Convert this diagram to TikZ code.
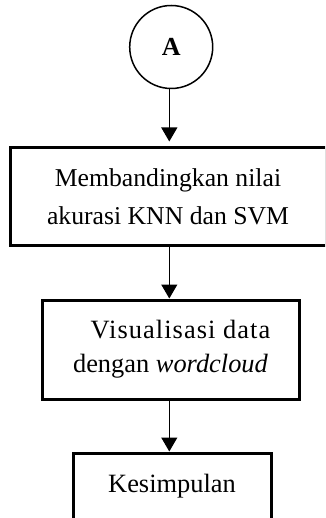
\documentclass[tikz,border=0pt]{standalone}
\usepackage{fontspec}
\setmainfont{Liberation Serif}
\usetikzlibrary{arrows.meta}
\begin{document}
\begin{tikzpicture}[x=1pt,y=-1pt,
  boxstyle/.style={draw, line width=3pt, rectangle, inner sep=0pt, outer sep=1.5pt, align=center},
  startnode/.style={draw, circle, line width=1.5pt, inner sep=0pt, outer sep=0.75pt, minimum size=83pt, font=\fontsize{26}{30}\selectfont\bfseries},
  arr/.style={line width=1.1pt, -{Triangle[width=16pt,length=14pt]}},
]
\useasboundingbox (0,0) rectangle (325,518);
\clip (0,0) rectangle (325,518);
\node[startnode] (A) at (171.2,47) {A};
\node[boxstyle, minimum width=316pt, minimum height=97pt, font=\fontsize{25.7}{38}\selectfont] (b1) at (168,196.5) {Membandingkan nilai\\akurasi KNN dan SVM};
\node[boxstyle, minimum width=257pt, minimum height=99pt, font=\fontsize{26.4}{34}\selectfont] (b2) at (170.5,349.5) {\hspace*{20pt}{\addfontfeature{LetterSpace=4}Visualisasi data}\\dengan \textit{wordcloud}};
\node[boxstyle, minimum width=198pt, minimum height=66pt, font=\fontsize{26.4}{34}\selectfont] (b3) at (172,486) {Kesimpulan};
\coordinate (col) at (169.3,0);
\draw[arr, shorten >=5pt] (A.south -| col) -- (b1.north -| col);
\draw[arr] (b1.south -| col) -- (b2.north -| col);
\draw[arr] (b2.south -| col) -- (b3.north -| col);
\end{tikzpicture}
\end{document}
